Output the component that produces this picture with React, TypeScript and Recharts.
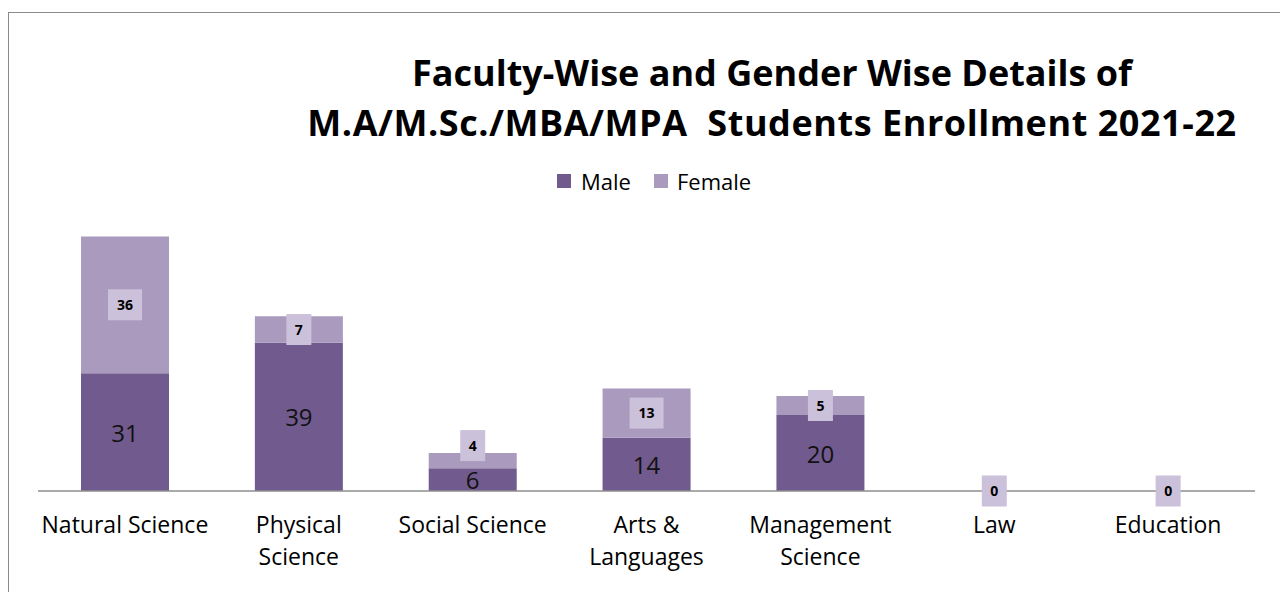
import React from 'react';
import { BarChart, Bar, XAxis, YAxis, LabelList } from 'recharts';

const categories = ['Natural Science', 'Physical Science', 'Social Science', 'Arts & Languages', 'Management Science', 'Law', 'Education'];
const tickLines = [['Natural Science'], ['Physical', 'Science'], ['Social Science'], ['Arts &', 'Languages'], ['Management', 'Science'], ['Law'], ['Education']];
const maleValues = [31, 39, 6, 14, 20, 0, 0];
const femaleValues = [36, 7, 4, 13, 5, 0, 0];
const seriesNames = ['Male', 'Female'];
const titleLines = ['Faculty-Wise and Gender Wise Details of', 'M.A/M.Sc./MBA/MPA  Students Enrollment 2021-22'];

const MALE = '#715A8E';
const FEMALE = '#A99ABE';
const BOX = '#CCC1DA';
const FONT = '"Open Sans", sans-serif';

const data = categories.map((c, i) => ({ category: c, male: maleValues[i], female: femaleValues[i] }));

const CategoryTick = (props: any) => {
  const { x, y, payload } = props;
  const idx = categories.indexOf(payload.value);
  const lines = tickLines[idx] || [payload.value];
  return (
    <g>
      {lines.map((l, i) => (
        <text key={i} x={x} y={y + 34 + i * 32} textAnchor="middle" fontSize={23} fill="#000" fontFamily={FONT}>
          {l}
        </text>
      ))}
    </g>
  );
};

const MaleLabel = (props: any) => {
  const { x, y, width, height, value } = props;
  if (!value) return null;
  const cx = Number(x) + Number(width) / 2;
  const cy = Number(y) + Number(height) / 2;
  return (
    <text x={cx} y={cy + 9.5} textAnchor="middle" fontSize={24} fill="#111" fontFamily={FONT}>
      {value}
    </text>
  );
};

const FemaleLabel = (props: any) => {
  const { x, y, width, height, value, index } = props;
  const cx = Number(x) + Number(width) / 2;
  let cy = Number(y) + Number(height) / 2;
  const h = 31;
  const maleVal = maleValues[index] || 0;
  // lift the box when the male segment is too short to hold its own label
  if (maleVal > 0 && Number(height) < h && maleVal < 10) cy -= 15;
  const w = String(value).length * 9 + 16;
  return (
    <g>
      <rect x={cx - w / 2} y={cy - h / 2} width={w} height={h} fill={BOX} />
      <text x={cx} y={cy + 5} textAnchor="middle" fontSize={14} fontWeight="bold" fill="#000" fontFamily={FONT}>
        {value}
      </text>
    </g>
  );
};

export default function App() {
  return (
    <div
      style={{
        position: 'fixed',
        left: 8,
        top: 12,
        width: 1272,
        height: 580,
        borderLeft: '1px solid #8a8a8a',
        borderTop: '1px solid #8a8a8a',
        overflow: 'hidden',
        background: '#fff',
        fontFamily: FONT,
      }}
    >
      <div
        style={{
          position: 'absolute',
          left: 163,
          top: 35,
          width: 1200,
          textAlign: 'center',
          fontSize: 36,
          fontWeight: 'bold',
          lineHeight: '50px',
          whiteSpace: 'pre',
          color: '#000',
        }}
      >
        {titleLines.map((t, i) => (
          <div key={i} style={{ letterSpacing: i === 1 ? '0.55px' : '0px' }}>{t}</div>
        ))}
      </div>
      <div style={{ position: 'absolute', left: 548, top: 161, width: 14, height: 14, background: MALE }} />
      <div style={{ position: 'absolute', left: 572, top: 157, fontSize: 22, lineHeight: '22px', color: '#000' }}>{seriesNames[0]}</div>
      <div style={{ position: 'absolute', left: 645, top: 161, width: 14, height: 14, background: FEMALE }} />
      <div style={{ position: 'absolute', left: 668, top: 157, fontSize: 22, lineHeight: '22px', color: '#000' }}>{seriesNames[1]}</div>
      <BarChart width={1271} height={579} data={data} margin={{ top: 174, right: 25, bottom: 0, left: 29 }}>
        <YAxis hide domain={[0, 80]} />
        <XAxis
          dataKey="category"
          height={101}
          interval={0}
          tickLine={false}
          axisLine={{ stroke: '#8e8e8e', strokeWidth: 1.5 }}
          tick={<CategoryTick />}
        />
        <Bar dataKey="male" stackId="a" fill={MALE} barSize={88} isAnimationActive={false}>
          <LabelList dataKey="male" content={<MaleLabel />} />
        </Bar>
        <Bar
          dataKey="female"
          stackId="a"
          fill={FEMALE}
          barSize={88}
          minPointSize={(v: any) => (Number(v) === 0 ? 0.01 : 0)}
          isAnimationActive={false}
        >
          <LabelList dataKey="female" content={<FemaleLabel />} />
        </Bar>
      </BarChart>
    </div>
  );
}
